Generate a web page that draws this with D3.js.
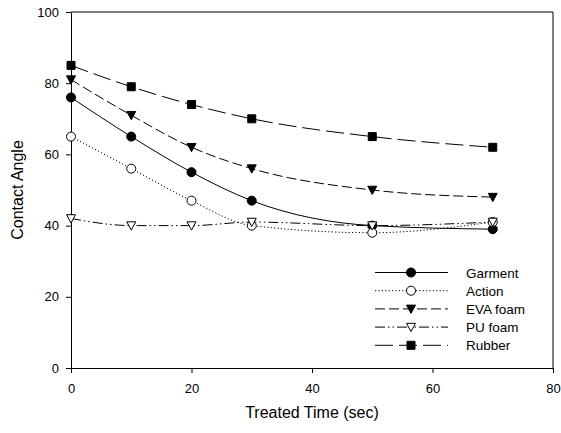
<!DOCTYPE html>
<html>
<head>
<meta charset="utf-8">
<script src="https://cdn.jsdelivr.net/npm/d3@7/dist/d3.min.js"></script>
<style>
  html, body { margin: 0; padding: 0; background: #fff; }
  svg { display: block; font-family: "Liberation Sans", Arial, sans-serif; }
</style>
</head>
<body>
<svg id="chart" width="561" height="433"></svg>
<script>
// Treatment times (sec)
const times = [0, 10, 20, 30, 50, 70];

// Contact angle per material
const garment = [76, 65, 55, 47, 40, 39];
const action  = [65, 56, 47, 40, 38, 41];
const evaFoam = [81, 71, 62, 56, 50, 48];
const puFoam  = [42, 40, 40, 41, 40, 41];
const rubber  = [85, 79, 74, 70, 65, 62];

const seriesNames = ["Garment", "Action", "EVA foam", "PU foam", "Rubber"];
const xTicks = [0, 20, 40, 60, 80];
const yTicks = [0, 20, 40, 60, 80, 100];

const seriesStyle = [
  { values: garment, dash: null,              symbol: d3.symbolCircle, fill: "#000", size: 64 },
  { values: action,  dash: "1.2,2.2",         symbol: d3.symbolCircle, fill: "#fff", size: 64 },
  { values: evaFoam, dash: "10,4",            symbol: "triDown",       fill: "#000", size: 9 },
  { values: puFoam,  dash: "10,3,1.5,3,1.5,3", symbol: "triDown",      fill: "#fff", size: 9 },
  { values: rubber,  dash: "18,6",            symbol: d3.symbolSquare, fill: "#000", size: 64 }
];

const svg = d3.select("#chart");
const plotLeft = 71, plotRight = 553, plotTop = 12, plotBottom = 368;

const x = d3.scaleLinear().domain([0, 80]).range([plotLeft, plotRight]);
const y = d3.scaleLinear().domain([0, 100]).range([plotBottom, plotTop]);

// Frame (top and right edges)
svg.append("path")
  .attr("d", `M${plotLeft},${plotTop}H${plotRight}V${plotBottom}`)
  .attr("fill", "none").attr("stroke", "#000").attr("stroke-width", 1);

const xAxis = svg.append("g")
  .attr("transform", `translate(0,${plotBottom})`)
  .call(d3.axisBottom(x).tickValues(xTicks).tickSize(5).tickPadding(11).tickSizeOuter(0));
const yAxis = svg.append("g")
  .attr("transform", `translate(${plotLeft},0)`)
  .call(d3.axisLeft(y).tickValues(yTicks).tickSize(5).tickPadding(7).tickSizeOuter(0));

[xAxis, yAxis].forEach(g => {
  g.select(".domain").attr("stroke", "#000");
  g.selectAll(".tick line").attr("stroke", "#000");
  g.selectAll(".tick text").attr("fill", "#000")
    .style("font-size", "13px").style("font-family", "Liberation Sans, Arial, sans-serif");
});

// Axis titles
svg.append("text")
  .attr("x", (plotLeft + plotRight) / 2).attr("y", 418)
  .attr("text-anchor", "middle")
  .style("font-size", "16px")
  .text("Treated Time (sec)");
svg.append("text")
  .attr("transform", `translate(23,${(plotTop + plotBottom) / 2}) rotate(-90)`)
  .attr("text-anchor", "middle")
  .style("font-size", "16px")
  .text("Contact Angle");

function drawMarker(g, s, cx, cy) {
  if (s.symbol === "triDown") {
    const h = s.size;
    g.append("path")
      .attr("d", `M${cx - h / 2},${cy - h * 0.42}L${cx + h / 2},${cy - h * 0.42}L${cx},${cy + h * 0.5}Z`)
      .attr("fill", s.fill).attr("stroke", "#000").attr("stroke-width", 1);
  } else {
    g.append("path")
      .attr("transform", `translate(${cx},${cy})`)
      .attr("d", d3.symbol().type(s.symbol).size(s.size)())
      .attr("fill", s.fill).attr("stroke", "#000").attr("stroke-width", 1);
  }
}

const line = d3.line()
  .x((d, i) => x(times[i]))
  .y(d => y(d))
  .curve(d3.curveMonotoneX);

const plot = svg.append("g");
seriesStyle.forEach(s => {
  plot.append("path")
    .attr("d", line(s.values))
    .attr("fill", "none").attr("stroke", "#000").attr("stroke-width", 1)
    .attr("stroke-dasharray", s.dash);
});
seriesStyle.forEach(s => {
  const g = plot.append("g");
  s.values.forEach((v, i) => drawMarker(g, s, x(times[i]), y(v)));
});

// Legend
const legend = svg.append("g");
seriesStyle.forEach((s, i) => {
  const ly = 272.5 + i * 18.2;
  legend.append("line")
    .attr("x1", 375).attr("x2", 448).attr("y1", ly).attr("y2", ly)
    .attr("stroke", "#000").attr("stroke-width", 1)
    .attr("stroke-dasharray", s.dash);
  drawMarker(legend, s, 411, ly);
  legend.append("text")
    .attr("x", 466).attr("y", ly + 5)
    .style("font-size", "13.5px")
    .text(seriesNames[i]);
});
</script>
</body>
</html>
